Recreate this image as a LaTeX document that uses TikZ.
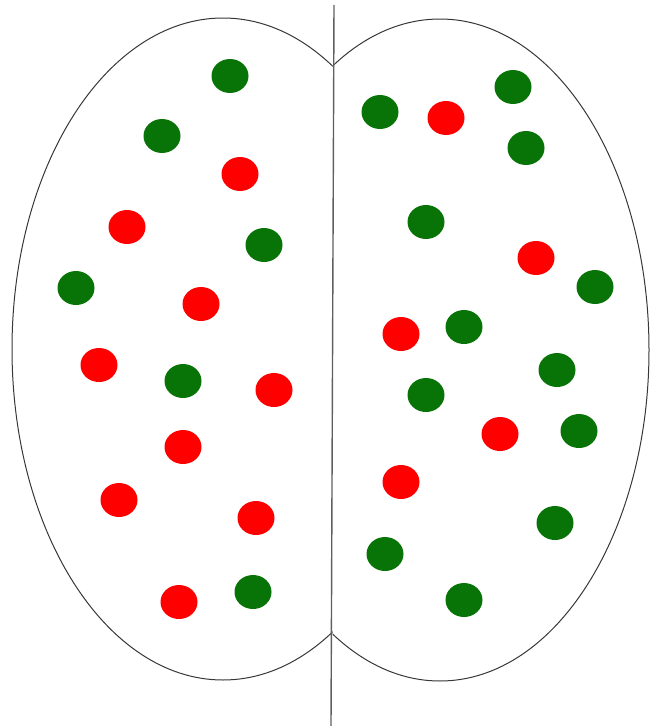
\documentclass[tikz,border=0pt]{standalone}
\definecolor{dotgreen}{RGB}{8,116,8}
\definecolor{dotred}{RGB}{255,0,0}
\definecolor{rimgray}{RGB}{55,55,55}
\begin{document}
\begin{tikzpicture}[x=1pt,y=-1pt,
  rim/.style={draw=rimgray,line width=1pt},
  gdot/.style={fill=dotgreen},
  rdot/.style={fill=dotred}]
\useasboundingbox (0,0) rectangle (649,726);
% the two halves
\begin{scope}
  \clip (0,0) rectangle (332.5,726);
  \draw[rim] (223,349) ellipse (211pt and 331pt);
\end{scope}
\begin{scope}
  \clip (332.5,0) rectangle (660,726);
  \draw[rim] (440,350) ellipse (209pt and 331pt);
\end{scope}
\coordinate (top) at (334,5);
\coordinate (bot) at (331,726);
\draw[draw=rimgray!80,line width=1.4pt] (top) -- (bot);
% left half
\foreach \x/\y in {230/76,162/136,264/245,76/288,183/381,253/592}{
  \fill[gdot] (\x,\y) ellipse (18.5pt and 17pt);
}
\foreach \x/\y in {240/174,127/227,201/304,99/365,274/390,183/447,119/500,256/518,179/602}{
  \fill[rdot] (\x,\y) ellipse (18.5pt and 17pt);
}
% right half
\foreach \x/\y in {380/112,513/87,526/148,426/222,595/287,464/327,557/370,426/395,579/431,555/523,385/554,464/600}{
  \fill[gdot] (\x,\y) ellipse (18.5pt and 17pt);
}
\foreach \x/\y in {446/118,536/258,401/334,500/434,401/482}{
  \fill[rdot] (\x,\y) ellipse (18.5pt and 17pt);
}
\end{tikzpicture}
\end{document}
